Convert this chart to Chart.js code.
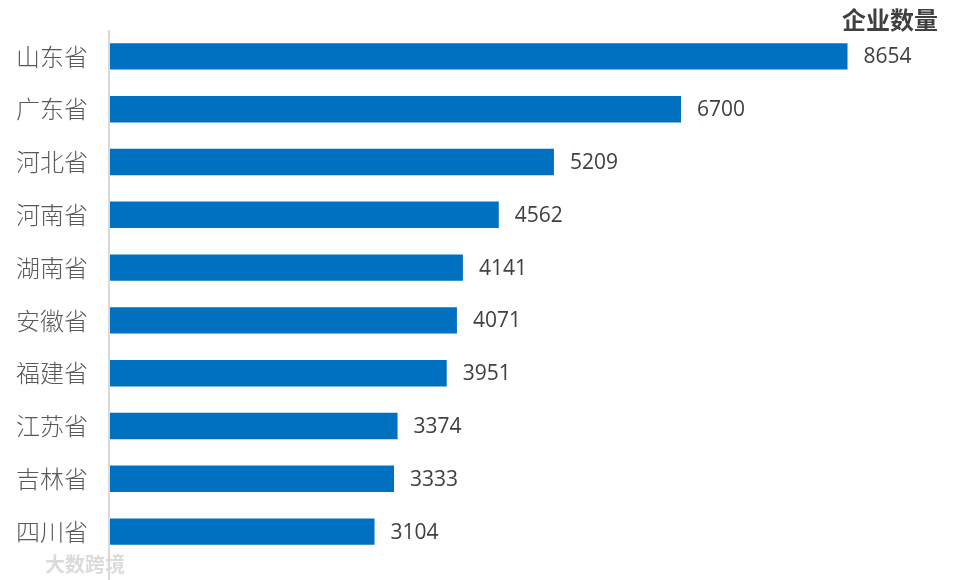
<!DOCTYPE html>
<html><head><meta charset="utf-8">
<script src="https://cdn.jsdelivr.net/npm/chart.js@4"></script>
<style>html,body{margin:0;padding:0;background:#fff}#w{width:959px;height:580px}</style>
</head><body><div id="w"><canvas id="c"></canvas></div>
<script>
const provinces = ["山东省","广东省","河北省","河南省","湖南省","安徽省","福建省","江苏省","吉林省","四川省"];
const companyCounts = [8654,6700,5209,4562,4141,4071,3951,3374,3333,3104];
const titleText = "企业数量";
const watermark = "大数跨境";

const labelPlugin = {
  id: 'valLabels',
  afterDatasetsDraw(chart) {
    const ctx = chart.ctx;
    const meta = chart.getDatasetMeta(0);
    ctx.save();
    ctx.font = '21px "Open Sans", sans-serif';
    ctx.fillStyle = '#404040';
    ctx.textBaseline = 'middle';
    ctx.textAlign = 'left';
    meta.data.forEach((el, i) => {
      ctx.fillText(String(companyCounts[i]), el.x + 16, el.y + 1);
    });
    const a = chart.chartArea;
    ctx.strokeStyle = '#d9d9d9';
    ctx.lineWidth = 2;
    ctx.beginPath();
    ctx.moveTo(a.left - 1, 30);
    ctx.lineTo(a.left - 1, chart.height);
    ctx.stroke();
    ctx.font = 'bold 24px "Noto Sans CJK SC", sans-serif';
    ctx.fillStyle = '#404040';
    ctx.textAlign = 'right';
    ctx.fillText(titleText, 938, 20);
    ctx.font = 'bold 20px "Noto Sans CJK SC", sans-serif';
    ctx.fillStyle = 'rgba(215,215,215,0.9)';
    ctx.textAlign = 'left';
    ctx.fillText(watermark, 45, 564);
    ctx.restore();
  }
};

new Chart(document.getElementById('c'), {
  type: 'bar',
  data: { labels: provinces, datasets: [{ data: companyCounts, backgroundColor: '#0070C0', categoryPercentage: 0.5, barPercentage: 1.0 }] },
  options: {
    indexAxis: 'y',
    responsive: true, maintainAspectRatio: false, animation: false,
    layout: { padding: { top: 30, bottom: 22, left: 0, right: 82 } },
    plugins: { legend: { display: false }, tooltip: { enabled: false } },
    scales: {
      x: { display: false, min: 0, max: 9000 },
      y: {
        grid: { display: false, drawTicks: false },
        border: { display: false },
        ticks: { color: '#595959', padding: 22, font: { size: 24, family: '"Noto Sans CJK SC", sans-serif', weight: '300' } },
        afterFit(s) { s.width = 110; s.paddingTop = 0; s.paddingBottom = 0; }
      }
    }
  },
  plugins: [labelPlugin]
});
</script></body></html>
